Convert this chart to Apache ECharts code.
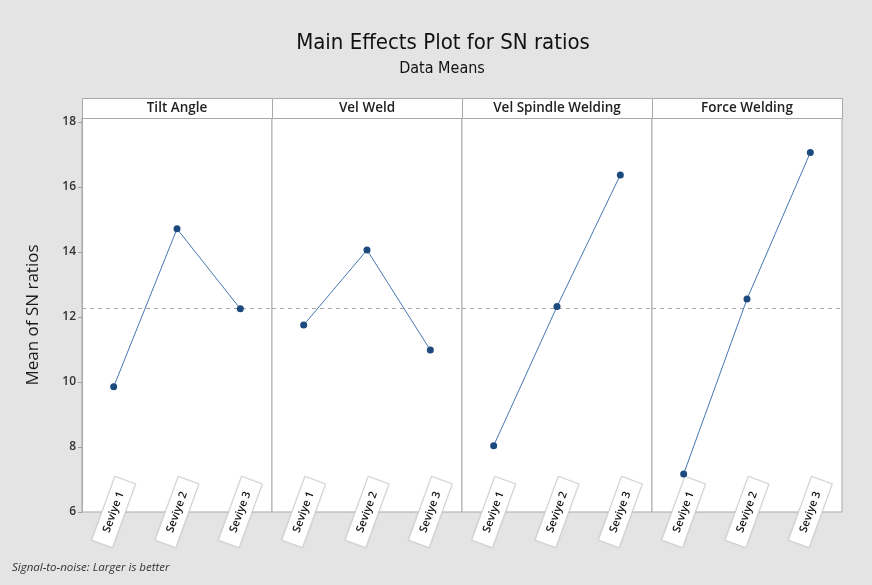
<!DOCTYPE html>
<html>
<head>
<meta charset="utf-8">
<script src="https://cdn.jsdelivr.net/npm/echarts@6/dist/echarts.min.js"></script>
<style>
  html, body { margin: 0; padding: 0; background: #e4e4e4; }
  #chart { width: 872px; height: 585px; }
</style>
</head>
<body>
<div id="chart"></div>
<script>
// Factors (one panel each) and their levels
const factors = ['Tilt Angle', 'Vel Weld', 'Vel Spindle Welding', 'Force Welding'];
const levels = ['Seviye 1', 'Seviye 2', 'Seviye 3'];

// Mean SN ratio per level
const tiltAngle = [9.85, 14.71, 12.25];
const velWeld = [11.75, 14.06, 10.98];
const velSpindleWelding = [8.04, 12.32, 16.37];
const forceWelding = [7.17, 12.55, 17.06];

const yTicks = [6, 8, 10, 12, 14, 16, 18];

const seriesData = [tiltAngle, velWeld, velSpindleWelding, forceWelding];

// Grand mean of all level means (reference line)
const allVals = seriesData.flat();
const grandMean = allVals.reduce((a, b) => a + b, 0) / allVals.length;

// Panel layout
const plotLeft = 82, panelW = 190, dataTop = 118, dataH = 394, stripTop = 98, stripH = 20;
const yMin = 6, yMax = 18.12;
const FONT = "'Open Sans', 'Noto Sans', sans-serif";
const NARROW = "'Liberation Sans Narrow', 'DejaVu Sans Condensed', sans-serif";

const grids = [], xAxes = [], yAxes = [], series = [], graphics = [];

factors.forEach((name, i) => {
  const left = plotLeft + i * panelW;
  grids.push({
    left: left, top: dataTop, width: panelW, height: dataH,
    show: true, backgroundColor: '#ffffff', borderColor: '#a9a9a9', borderWidth: 1
  });
  xAxes.push({
    type: 'category', gridIndex: i, data: levels, boundaryGap: true,
    axisLine: { show: false }, axisTick: { show: false },
    axisLabel: {
      rotate: 70, margin: 0, align: 'center', verticalAlign: 'middle',
      fontFamily: FONT, fontWeight: 600, fontSize: 11, color: '#111',
      backgroundColor: '#ffffff', borderColor: '#d4d4d4', borderWidth: 1,
      padding: [5, 12, 5, 12],
      shadowColor: 'rgba(0,0,0,0.08)', shadowBlur: 2
    }
  });
  const first = i === 0;
  yAxes.push({
    type: 'value', gridIndex: i, min: yMin, max: yMax,
    splitLine: { show: false },
    axisLine: { show: first, lineStyle: { color: '#a9a9a9' } },
    axisTick: { show: first, customValues: yTicks, length: 4, lineStyle: { color: '#a0a0a0' } },
    axisLabel: { show: first, customValues: yTicks, fontFamily: FONT, fontWeight: 600, fontSize: 12, color: '#333', margin: 6 },
    name: first ? 'Mean of SN ratios' : '',
    nameLocation: 'middle', nameGap: 40, nameRotate: 90,
    nameTextStyle: { fontFamily: FONT, fontWeight: 500, fontSize: 17, color: '#1a1a1a' }
  });
  series.push({
    type: 'line', xAxisIndex: i, yAxisIndex: i, data: seriesData[i],
    symbol: 'circle', symbolSize: 7,
    lineStyle: { color: '#4677b2', width: 1 },
    itemStyle: { color: '#1d4a7e' },
    z: 3,
    markLine: {
      silent: true, symbol: 'none', label: { show: false }, z: 1,
      lineStyle: { color: '#a8a8a8', type: [4, 4], width: 1 },
      data: [{ yAxis: grandMean }]
    }
  });
  // Factor header strip
  graphics.push({
    type: 'rect', left: left, top: stripTop,
    shape: { width: panelW, height: stripH },
    style: { fill: '#ffffff', stroke: '#a9a9a9', lineWidth: 1 }
  });
  graphics.push({
    type: 'text', x: left + panelW / 2, y: stripTop + stripH / 2,
    style: { text: name, fontFamily: FONT, fontWeight: 600, fontSize: 13.5, fill: '#222',
             align: 'center', verticalAlign: 'middle' }
  });
});

// Titles and footnote
graphics.push({
  type: 'text', x: 443, y: 43,
  style: { text: 'Main Effects Plot for SN ratios', fontFamily: NARROW, fontWeight: 500,
           fontSize: 22, fill: '#111', align: 'center', verticalAlign: 'middle' }
});
graphics.push({
  type: 'text', x: 442, y: 69,
  style: { text: 'Data Means', fontFamily: NARROW, fontWeight: 500,
           fontSize: 16, fill: '#111', align: 'center', verticalAlign: 'middle' }
});
graphics.push({
  type: 'text', x: 12, y: 568,
  style: { text: 'Signal-to-noise: Larger is better', fontFamily: FONT, fontStyle: 'italic',
           fontSize: 11.5, fill: '#333', align: 'left', verticalAlign: 'middle' }
});

const chart = echarts.init(document.getElementById('chart'), null, { renderer: 'canvas' });
chart.setOption({
  backgroundColor: '#e4e4e4',
  animation: false,
  grid: grids,
  xAxis: xAxes,
  yAxis: yAxes,
  series: series,
  graphic: graphics
});
</script>
</body>
</html>
